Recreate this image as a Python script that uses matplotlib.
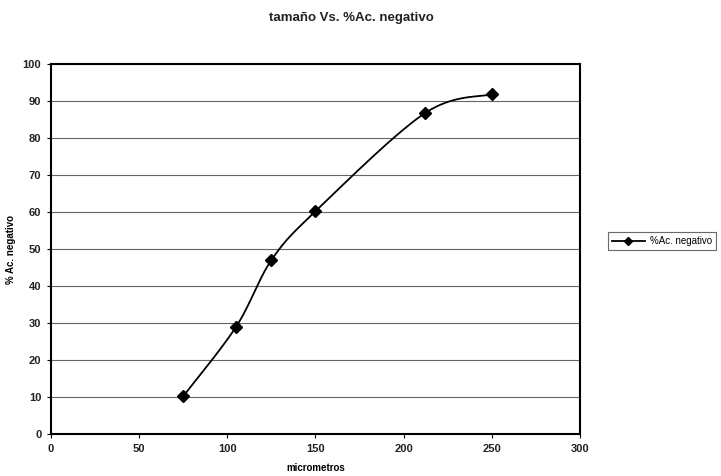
import numpy as np
import matplotlib.pyplot as plt

# Data
tamano = [75, 105, 125, 150, 212, 250]
acNegativo = [10.2, 29.0, 47.0, 60.2, 86.7, 91.8]

xTicks = [0, 50, 100, 150, 200, 250, 300]
yTicks = [0, 10, 20, 30, 40, 50, 60, 70, 80, 90, 100]


def excelSmooth(xs, ys, sx, sy, n=40):
    """Excel-like smoothed line (Catmull-Rom as cubic Bezier)."""
    p = np.column_stack([np.asarray(xs) * sx, np.asarray(ys) * sy])
    p = np.vstack([p[0], p, p[-1]])
    out = []
    t = np.linspace(0, 1, n)[:, None]
    for i in range(1, len(p) - 2):
        p0, p1, p2, p3 = p[i - 1], p[i], p[i + 1], p[i + 2]
        c1 = p1 + (p2 - p0) / 6.0
        c2 = p2 - (p3 - p1) / 6.0
        seg = ((1 - t) ** 3) * p1 + 3 * ((1 - t) ** 2) * t * c1 \
            + 3 * (1 - t) * t ** 2 * c2 + t ** 3 * p2
        out.append(seg)
    out = np.vstack(out)
    return out[:, 0] / sx, out[:, 1] / sy


plt.rcParams["font.family"] = ["Liberation Sans", "DejaVu Sans"]

fig = plt.figure(figsize=(7.21, 4.76), dpi=100)
ax = fig.add_axes([0.0707, 0.0882, 0.7337, 0.7773])

# pixel scale of the axes so the smoothing matches the drawn shape
sx = 529.0 / 300.0
sy = 370.0 / 100.0
cx, cy = excelSmooth(tamano, acNegativo, sx, sy)

ax.plot(cx, cy, color="black", linewidth=1.3, zorder=3)
ax.plot(tamano, acNegativo, linestyle="none", marker="D", markersize=6,
        color="black", zorder=4)
# legend proxy
ax.plot([], [], color="black", linewidth=1.3, marker="D", markersize=4,
        label="%Ac. negativo")

ax.set_xlim(0, 300)
ax.set_ylim(0, 100)
ax.set_xticks(xTicks)
ax.set_yticks(yTicks)
ax.yaxis.grid(True, color="#666666", linewidth=0.8)
ax.set_axisbelow(True)

for spine in ax.spines.values():
    spine.set_linewidth(1.5)
    spine.set_color("black")

ax.tick_params(axis="both", direction="out", length=3, width=0.8,
               labelsize=8, pad=4)
for lbl in ax.get_xticklabels() + ax.get_yticklabels():
    lbl.set_fontweight("bold")
    lbl.set_color("#222222")

ax.set_xlabel("micrometros", fontsize=7, fontweight="bold", labelpad=7)
ax.set_ylabel("% Ac. negativo", fontsize=7, fontweight="bold", labelpad=5)

fig.suptitle("tamaño Vs. %Ac. negativo", x=0.487, y=0.975,
             fontsize=9.5, fontweight="bold", color="#222222")

leg = fig.legend(loc="center left", bbox_to_anchor=(0.836, 0.493),
                 fontsize=7, frameon=True, fancybox=False,
                 edgecolor="#444444", handlelength=3.4,
                 borderpad=0.4, handletextpad=0.6)
leg.get_frame().set_linewidth(0.8)

fig.savefig("out.png", dpi=100)
